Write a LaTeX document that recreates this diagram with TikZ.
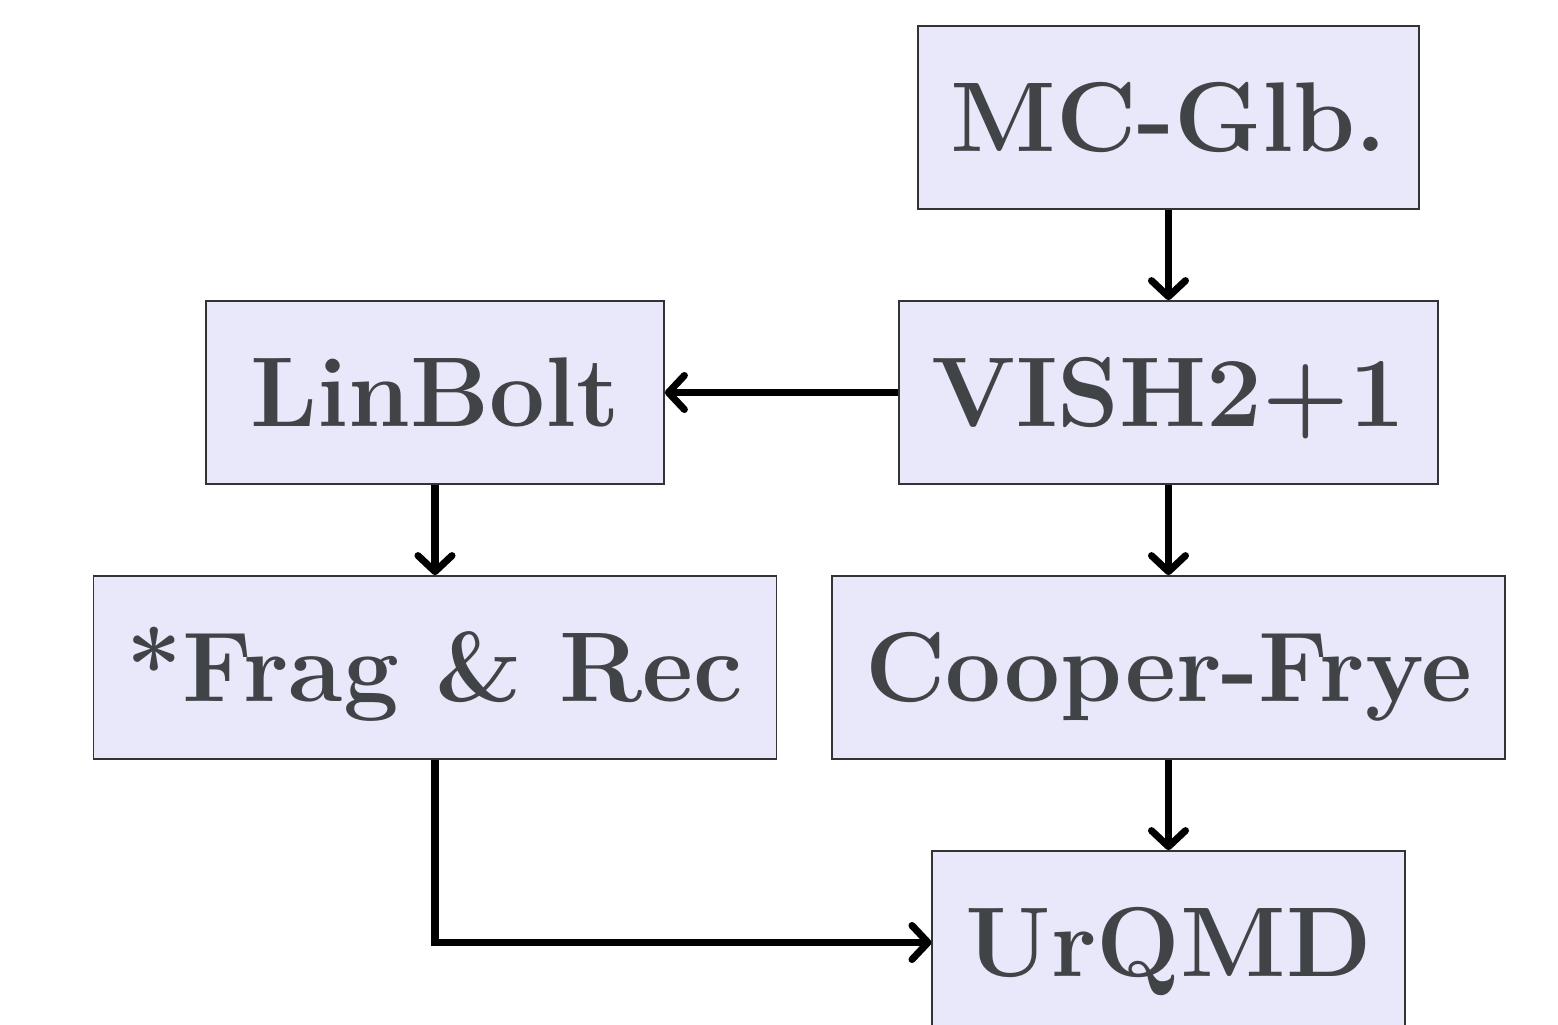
\documentclass[tikz,border=0pt]{standalone}
\usetikzlibrary{arrows.meta}

\definecolor{boxfill}{HTML}{E8E8FA}
\definecolor{boxtext}{HTML}{404447}
\definecolor{boxline}{HTML}{333333}

\tikzset{
  stage/.style={draw=boxline, line width=0.5pt, fill=boxfill, text=boxtext,
    font=\fontsize{28.2}{34}\selectfont\bfseries,
    inner xsep=0.33cm, minimum height=1.83cm,
    text height=0.93cm, text depth=0.25cm},
  flow/.style={-{Straight Barb[length=0.16cm,width=0.34cm,round]}, line width=2pt}
}

\begin{document}
\begin{tikzpicture}
    \useasboundingbox (0,0) rectangle (15.58,-10.24);

    % right column: hydro chain
    \node[stage] (mcglb)  at (11.685,-1.175) {MC-Glb.};
    \node[stage] (vish)   at (11.685,-3.925) {VISH2+1};
    \node[stage] (cooper) at (11.685,-6.675) {Cooper-Frye};
    \node[stage] (urqmd)  at (11.685,-9.425) {UrQMD};

    % left column: heavy quarks
    \node[stage, minimum width=4.58cm] (linbolt) at (4.35,-3.925) {LinBolt};
    \node[stage] (fragrec) at (4.35,-6.675) {*Frag \& Rec};

    \draw[flow] (mcglb) -- (vish);
    \draw[flow] (vish) -- (linbolt);
    \draw[flow] (vish) -- (cooper);
    \draw[flow] (cooper) -- (urqmd);
    \draw[flow] (linbolt) -- (fragrec);
    \draw[flow] (fragrec.south) |- (urqmd.west);
\end{tikzpicture}
\end{document}
